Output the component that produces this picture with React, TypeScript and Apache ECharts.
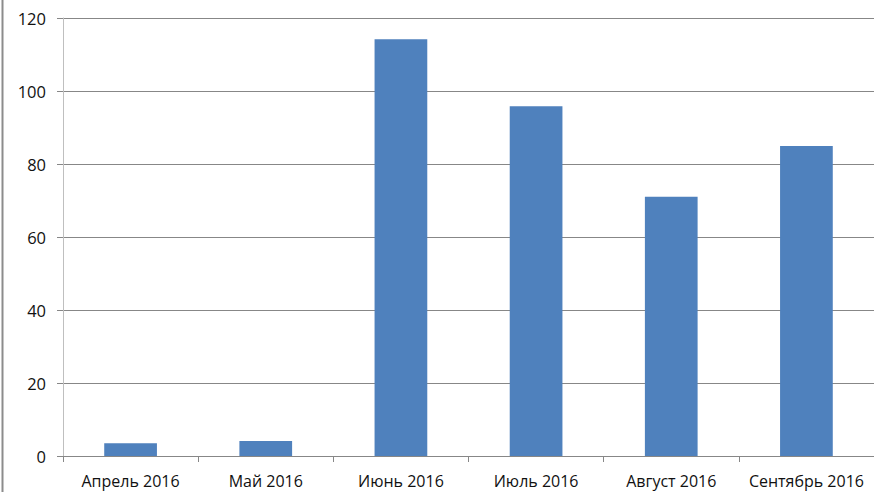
import React, { useEffect, useRef } from "react";
import * as echarts from "echarts";

const categories = ["Апрель 2016", "Май 2016", "Июнь 2016", "Июль 2016", "Август 2016", "Сентябрь 2016"];
const values = [3.5, 4.1, 114.2, 95.8, 71, 84.9];
const yTicks = { min: 0, max: 120, interval: 20 };

export default function App() {
  const ref = useRef<HTMLDivElement>(null);
  useEffect(() => {
    const chart = echarts.init(ref.current!, null, { renderer: "svg" });
    chart.setOption({
      animation: false,
      backgroundColor: "#ffffff",
      textStyle: { fontFamily: "Open Sans" },
      grid: { left: 63, right: -5, top: 18, bottom: 36, containLabel: false },
      graphic: [
        {
          type: "line",
          shape: { x1: 2.5, y1: 0, x2: 2.5, y2: 492 },
          style: { stroke: "#8c8c8c", lineWidth: 2 },
        },
      ],
      xAxis: {
        type: "category",
        data: categories,
        axisLine: { lineStyle: { color: "#878787", width: 1 } },
        axisTick: { show: true, length: 6, lineStyle: { color: "#878787" } },
        axisLabel: { color: "#111111", fontSize: 16, lineHeight: 17, margin: 16, interval: 0 },
        splitLine: { show: false },
      },
      yAxis: {
        type: "value",
        min: yTicks.min,
        max: yTicks.max,
        interval: yTicks.interval,
        axisLine: { show: true, lineStyle: { color: "#bfbfbf", width: 1 } },
        axisTick: { show: true, length: 6, lineStyle: { color: "#878787" } },
        axisLabel: { color: "#111111", fontSize: 16.5, margin: 17 },
        splitLine: { show: true, lineStyle: { color: "#878787", width: 1 } },
      },
      series: [
        {
          type: "bar",
          data: values,
          barWidth: "39%",
          itemStyle: { color: "#4f81bd" },
        },
      ],
    });
    return () => chart.dispose();
  }, []);
  return (
    <div
      ref={ref}
      style={{ position: "fixed", left: 0, top: 0, width: 874, height: 492 }}
    />
  );
}
